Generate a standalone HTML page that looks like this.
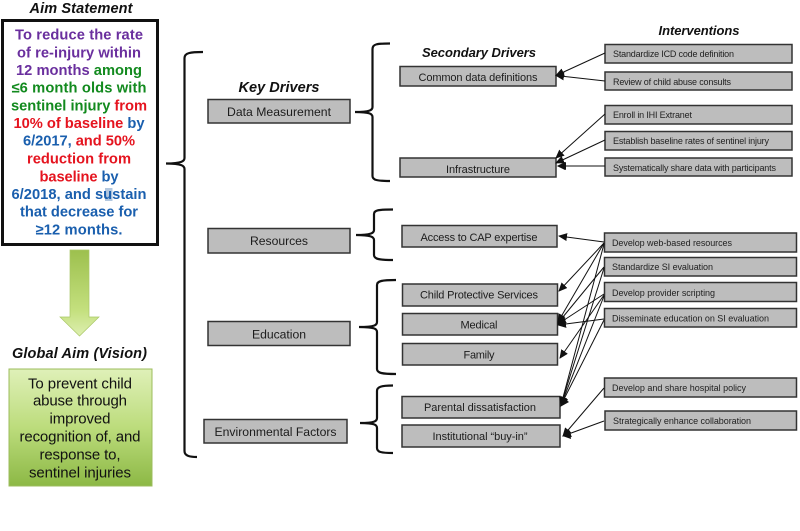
<!DOCTYPE html>
<html><head><meta charset="utf-8">
<style>
html,body{margin:0;padding:0;background:#fff;width:800px;height:531px;overflow:hidden}
svg{display:block;font-family:"Liberation Sans",sans-serif;filter:blur(.3px)}
.b{fill:#bdbdbd;stroke:#333;stroke-width:1.5}
.k{font-size:12.2px;fill:#1c1c1c;text-anchor:middle}
.s{font-size:11px;fill:#1c1c1c;text-anchor:middle}
.i{font-size:9px;fill:#222}
.h{font-size:14.500px;font-weight:bold;font-style:italic;fill:#111;text-anchor:middle}
.a{font-size:14.700px;font-weight:bold;text-anchor:middle}
.g{font-size:15px;fill:#111;text-anchor:middle}
.br{fill:none;stroke:#111;stroke-width:2.2}
.c{stroke:#111;stroke-width:1;fill:none;marker-end:url(#m)}
.pu{fill:#6a2f9e}.gr{fill:#128a1e}.re{fill:#e5141f}.bl{fill:#1a5fae}
</style></head><body>
<svg width="800" height="531" viewBox="0 0 800 531">
<defs>
<marker id="m" markerWidth="9" markerHeight="8" refX="8" refY="4" orient="auto" markerUnits="userSpaceOnUse"><path d="M0 0L9 4L0 8z" fill="#111"/></marker>
<linearGradient id="g1" x1="0" y1="0" x2="0" y2="1"><stop offset="0" stop-color="#dff0b8"/><stop offset=".5" stop-color="#bcdc7c"/><stop offset="1" stop-color="#8cb845"/></linearGradient>
<linearGradient id="g2" x1="0" y1="0" x2="0" y2="1"><stop offset="0" stop-color="#9dc04e"/><stop offset=".7" stop-color="#c4e07e"/><stop offset="1" stop-color="#deefb0"/></linearGradient>
</defs>

<text class="h" x="81" y="13" textLength="103">Aim Statement</text>
<rect x="2.500" y="20.500" width="155" height="224" fill="#fff" stroke="#111" stroke-width="3"/>
<rect x="105" y="188" width="7.500" height="13" fill="#b3c8e0"/>
<text class="a pu" x="79" y="39.500" textLength="128">To reduce the rate</text>
<text class="a pu" x="79" y="57.500" textLength="124">of re-injury within</text>
<text class="a" x="79" y="75" textLength="126"><tspan class="pu">12 months </tspan><tspan class="gr">among</tspan></text>
<text class="a gr" x="79" y="92.500" textLength="135">≤6 month olds with</text>
<text class="a" x="79" y="110.500" textLength="136"><tspan class="gr">sentinel injury </tspan><tspan class="re">from</tspan></text>
<text class="a" x="79" y="128" textLength="131"><tspan class="re">10% of baseline </tspan><tspan class="bl">by</tspan></text>
<text class="a" x="79" y="145.500" textLength="112"><tspan class="bl">6/2017, </tspan><tspan class="re">and 50%</tspan></text>
<text class="a re" x="79" y="163.500" textLength="104">reduction from</text>
<text class="a" x="79" y="181.500" textLength="79"><tspan class="re">baseline </tspan><tspan class="bl">by</tspan></text>
<text class="a bl" x="79" y="199" textLength="135">6/2018, and sustain</text>
<text class="a bl" x="79" y="216.500" textLength="118">that decrease for</text>
<text class="a bl" x="79" y="234.500" textLength="87">≥12 months.</text>

<path d="M70 250H89V317H99L79.500 336L60 317H70Z" fill="url(#g2)" stroke="#a9c766" stroke-width=".7"/>
<text class="h" x="79.500" y="358" textLength="135">Global Aim (Vision)</text>
<rect x="9" y="369" width="143" height="117" fill="url(#g1)" stroke="#9cbc5c"/>
<text class="g" x="80" y="388.500" textLength="104">To prevent child</text>
<text class="g" x="80" y="405.500" textLength="94">abuse through</text>
<text class="g" x="80" y="423.500" textLength="61">improved</text>
<text class="g" x="80" y="441.500" textLength="121">recognition of, and</text>
<text class="g" x="80" y="459.500" textLength="81">response to,</text>
<text class="g" x="80" y="477.500" textLength="102">sentinel injuries</text>

<path class="br" d="M203 52C190 52 184.500 53 184.500 58V158C184.500 161 182 163.500 166 163.500C182 163.500 184.500 166 184.500 169V451C184.500 456 190 457 197 457"/>
<path class="br" d="M390 43.500C377 43.500 372.500 44 372.500 49V107C372.500 110 370 112 355 112C370 112 372.500 114 372.500 117V176C372.500 180 377 181 390 181"/>
<path class="br" d="M393 209.500C379 209.500 374 210 374 214V230C374 233 371 235 356 235C371 235 374 237 374 240V255C374 259 379 260 393 260"/>
<path class="br" d="M396 280C382 280 377 281 377 285V322C377 325 375 327 359 327C375 327 377 329 377 332V369C377 373 382 374 396 374"/>
<path class="br" d="M393 385.500C381 385.500 377 387 377 391V418C377 421 375 423 360 423C375 423 377 425 377 428V448C377 452 381 453 393 453"/>

<text class="h" x="279" y="92" textLength="81" style="font-size:14.500px">Key Drivers</text>
<text class="h" x="479" y="57" style="font-size:13px" textLength="114">Secondary Drivers</text>
<text class="h" x="699" y="35" style="font-size:13px" textLength="81">Interventions</text>

<rect class="b" x="208" y="99.500" width="142" height="23.500"/><text class="k" x="279" y="116" textLength="104">Data Measurement</text>
<rect class="b" x="208" y="228.500" width="142" height="24.500"/><text class="k" x="279" y="245" textLength="58">Resources</text>
<rect class="b" x="208" y="321.500" width="142" height="24"/><text class="k" x="279" y="338.500" textLength="54">Education</text>
<rect class="b" x="204" y="419.500" width="143" height="23.500"/><text class="k" x="275.500" y="436" textLength="122">Environmental Factors</text>

<rect class="b" x="400" y="66.500" width="156" height="19.500"/><text class="s" x="478" y="81" textLength="119">Common data definitions</text>
<rect class="b" x="400" y="158" width="156" height="19"/><text class="s" x="478" y="173" textLength="64">Infrastructure</text>
<rect class="b" x="402" y="225.500" width="155" height="21.500"/><text class="s" x="479" y="241" textLength="117">Access to CAP expertise</text>
<rect class="b" x="402.500" y="284" width="155" height="22"/><text class="s" x="479" y="298.500" textLength="118">Child Protective Services</text>
<rect class="b" x="402.500" y="313.500" width="155" height="21.500"/><text class="s" x="479" y="328.500" textLength="37">Medical</text>
<rect class="b" x="402.500" y="343.500" width="155" height="21.500"/><text class="s" x="479" y="358.500" textLength="31">Family</text>
<rect class="b" x="402" y="396.500" width="158" height="21.500"/><text class="s" x="480" y="411" textLength="112">Parental dissatisfaction</text>
<rect class="b" x="402" y="425" width="158" height="22"/><text class="s" x="480" y="440" textLength="95">Institutional “buy-in”</text>

<rect class="b" x="605" y="44.500" width="187" height="18.500"/><text class="i" x="613" y="57" textLength="121">Standardize ICD code definition</text>
<rect class="b" x="605" y="72" width="187" height="18"/><text class="i" x="613" y="85" textLength="118">Review of child abuse consults</text>
<rect class="b" x="605" y="105.500" width="187" height="18.500"/><text class="i" x="613" y="118" textLength="79">Enroll in IHI Extranet</text>
<rect class="b" x="605" y="131.500" width="187" height="18.500"/><text class="i" x="613" y="144" textLength="156">Establish baseline rates of sentinel injury</text>
<rect class="b" x="605" y="158" width="187" height="18"/><text class="i" x="613" y="171" textLength="163">Systematically share data with participants</text>
<rect class="b" x="604.500" y="233" width="192" height="19"/><text class="i" x="612" y="246" textLength="120">Develop web-based resources</text>
<rect class="b" x="604.500" y="257.500" width="192" height="18.500"/><text class="i" x="612" y="270" textLength="101">Standardize SI evaluation</text>
<rect class="b" x="604.500" y="282.500" width="192" height="19"/><text class="i" x="612" y="296" textLength="103">Develop provider scripting</text>
<rect class="b" x="604.500" y="308.500" width="192" height="18.500"/><text class="i" x="612" y="321.500" textLength="157">Disseminate education on SI evaluation</text>
<rect class="b" x="604.500" y="378" width="192" height="19"/><text class="i" x="612" y="391" textLength="134">Develop and share hospital policy</text>
<rect class="b" x="605" y="411" width="191.500" height="19"/><text class="i" x="613" y="424" textLength="138">Strategically enhance collaboration</text>

<line class="c" x1="605" y1="53" x2="556" y2="75.500"/>
<line class="c" x1="605" y1="81" x2="556" y2="75.500"/>
<line class="c" x1="605" y1="114" x2="556" y2="158"/>
<line class="c" x1="605" y1="140" x2="556" y2="163"/>
<line class="c" x1="605" y1="166" x2="558" y2="166"/>
<line class="c" x1="604" y1="242" x2="559" y2="236"/>
<line class="c" x1="604" y1="243" x2="559" y2="291"/>
<line class="c" x1="604" y1="243" x2="558" y2="322"/>
<line class="c" x1="604" y1="244" x2="561" y2="405"/>
<line class="c" x1="604" y1="267" x2="558" y2="323"/>
<line class="c" x1="604" y1="268" x2="561" y2="405"/>
<line class="c" x1="604" y1="294" x2="558" y2="324"/>
<line class="c" x1="604" y1="295" x2="560" y2="358"/>
<line class="c" x1="604" y1="296" x2="561" y2="405"/>
<line class="c" x1="604" y1="319" x2="558" y2="325"/>
<line class="c" x1="604" y1="320" x2="561" y2="405"/>
<line class="c" x1="604" y1="388" x2="563" y2="436"/>
<line class="c" x1="604" y1="421" x2="563" y2="436"/>
<path d="M557.500 324L564 319L565 327Z" fill="#111"/>
<path d="M560 407L562 397L569 402Z" fill="#111"/>
<path d="M562.500 436L570 431L571 439Z" fill="#111"/>
<path d="M557 166L565 162L565 170Z" fill="#111"/>
</svg>
</body></html>
